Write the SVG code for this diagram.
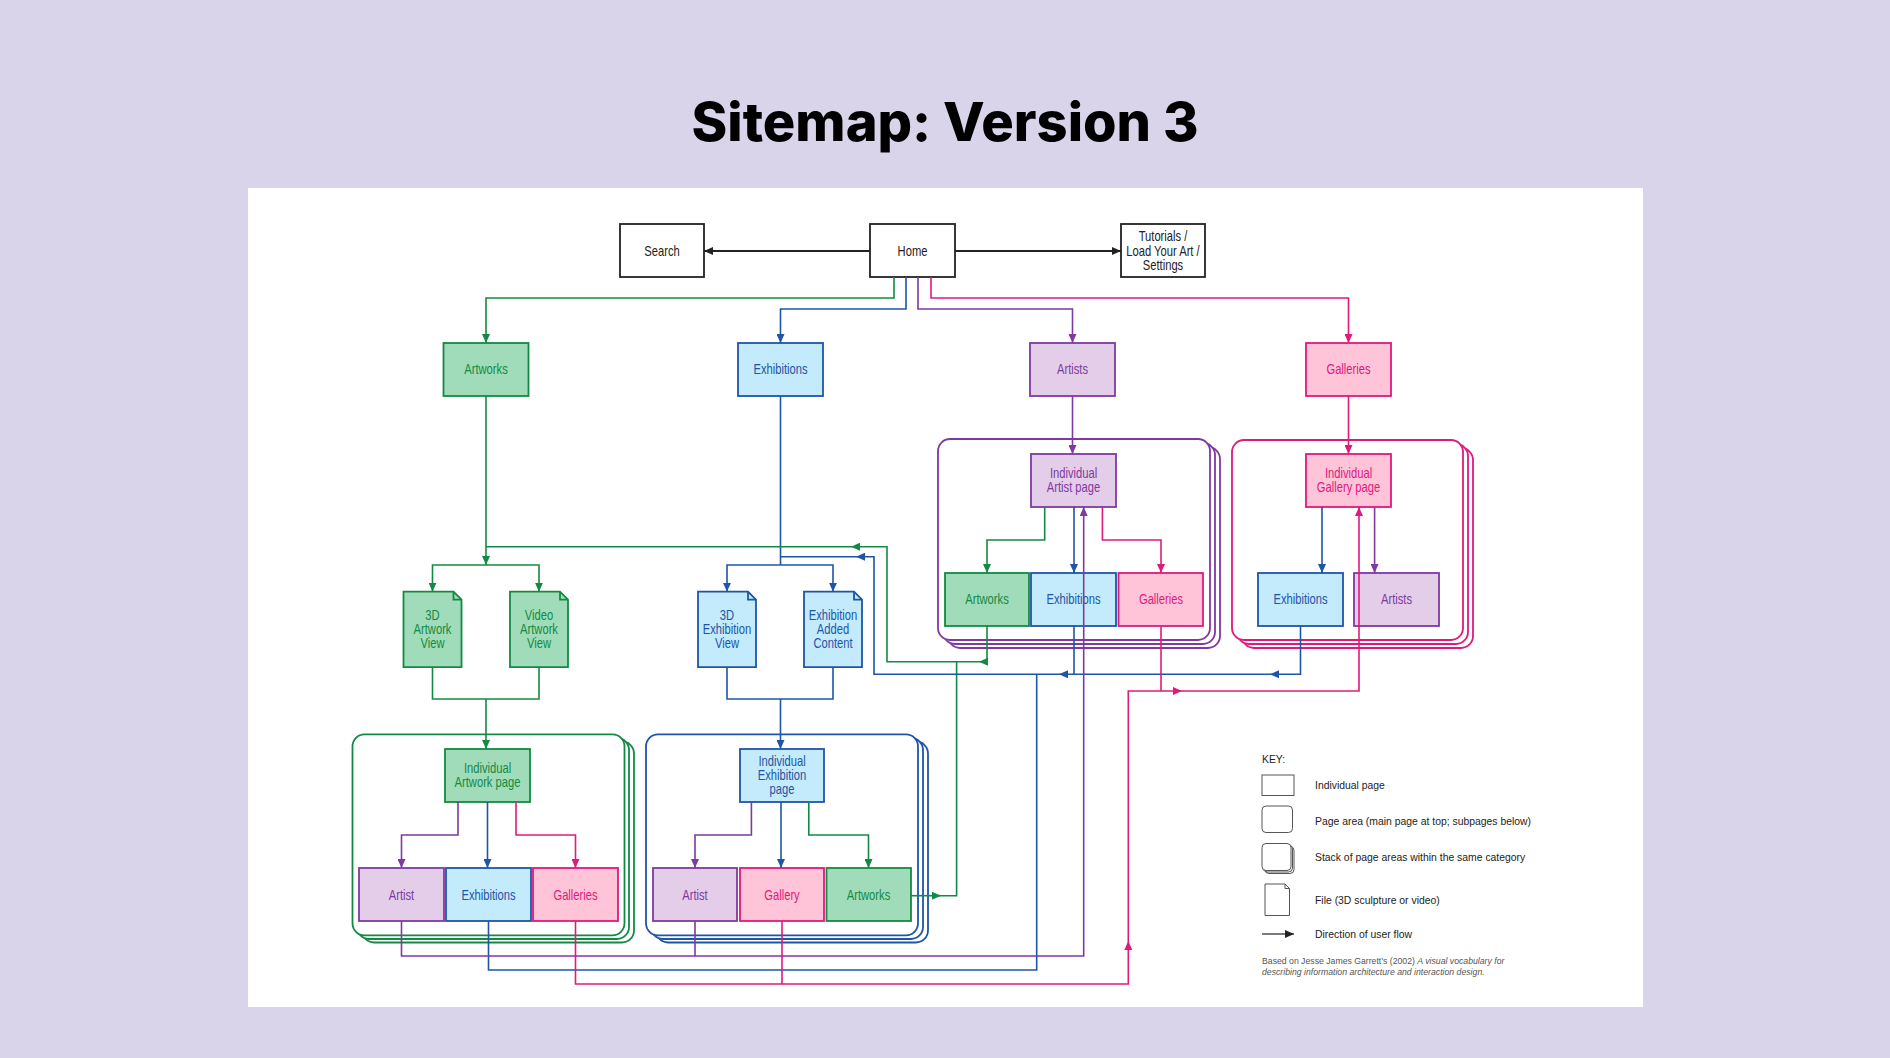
<svg xmlns="http://www.w3.org/2000/svg" width="1890" height="1058" viewBox="0 0 1890 1058">
<style>
.n{stroke-width:1.8}
.gr{fill:#A0DCB9;stroke:#138A43}
.bl{fill:#C3EBFC;stroke:#1E55A8}
.pu{fill:#E3CDE8;stroke:#7E3AA0}
.pk{fill:#FFC4D8;stroke:#E0197D}
.bk{fill:#fff;stroke:#222}
.ar{fill:#fff;stroke-width:1.8}
.t{font-family:'Liberation Sans',Arial,sans-serif;font-size:14px;text-anchor:middle}
.tg{fill:#138A43}.tb{fill:#1E55A8}.tp{fill:#7E3AA0}.tk{fill:#E0197D}.t0{fill:#222}
.c{fill:none;stroke-width:1.6}
.cg{stroke:#138A43}.cb{stroke:#1E55A8}.cp{stroke:#7E3AA0}.ck{stroke:#E0197D}.c0{stroke:#222;stroke-width:1.8}
.lg{font-family:'Liberation Sans',Arial,sans-serif;font-size:10.4px;fill:#222}
.li{fill:#fff;stroke:#555;stroke-width:1}
.cr{font-family:'Liberation Sans',Arial,sans-serif;font-size:8.7px;fill:#555}
</style>
<defs>
<marker id="mg" viewBox="0 0 9 8" refX="9" refY="4" markerWidth="9" markerHeight="8" markerUnits="userSpaceOnUse" orient="auto"><path d="M0,0L9,4L0,8z" fill="#138A43"/></marker>
<marker id="mb" viewBox="0 0 9 8" refX="9" refY="4" markerWidth="9" markerHeight="8" markerUnits="userSpaceOnUse" orient="auto"><path d="M0,0L9,4L0,8z" fill="#1E55A8"/></marker>
<marker id="mp" viewBox="0 0 9 8" refX="9" refY="4" markerWidth="9" markerHeight="8" markerUnits="userSpaceOnUse" orient="auto"><path d="M0,0L9,4L0,8z" fill="#7E3AA0"/></marker>
<marker id="mk" viewBox="0 0 9 8" refX="9" refY="4" markerWidth="9" markerHeight="8" markerUnits="userSpaceOnUse" orient="auto"><path d="M0,0L9,4L0,8z" fill="#E0197D"/></marker>
<marker id="m0" viewBox="0 0 9 8" refX="9" refY="4" markerWidth="10" markerHeight="8" markerUnits="userSpaceOnUse" orient="auto"><path d="M0,0L9,4L0,8z" fill="#222"/></marker>
</defs>
<rect width="1890" height="1058" fill="#D9D4EA"/>
<rect x="248" y="188" width="1395" height="819" fill="#fff"/>
<text x="945" y="141" text-anchor="middle" font-family="Inter,'Open Sans','Liberation Sans',sans-serif" font-weight="800" font-size="54" textLength="507" lengthAdjust="spacingAndGlyphs" fill="#000">Sitemap: Version 3</text>

<!-- page areas -->
<g id="area-artist">
<rect class="ar" style="stroke:#7E3AA0" x="948" y="447" width="272" height="201" rx="12"/>
<rect class="ar" style="stroke:#7E3AA0" x="943" y="443" width="272" height="201" rx="12"/>
<rect class="ar" style="stroke:#7E3AA0" x="938" y="439" width="272" height="201" rx="12"/>
</g>
<g id="area-gallery">
<rect class="ar" style="stroke:#E0197D" x="1242" y="448" width="231" height="200" rx="12"/>
<rect class="ar" style="stroke:#E0197D" x="1237" y="444" width="231" height="200" rx="12"/>
<rect class="ar" style="stroke:#E0197D" x="1232" y="440" width="231" height="200" rx="12"/>
</g>
<g id="area-artwork">
<rect class="ar" style="stroke:#138A43" x="362" y="741.5" width="272" height="201" rx="12"/>
<rect class="ar" style="stroke:#138A43" x="357" y="738" width="272" height="201" rx="12"/>
<rect class="ar" style="stroke:#138A43" x="352.5" y="734.3" width="272" height="201" rx="12"/>
</g>
<g id="area-exhibition">
<rect class="ar" style="stroke:#1E55A8" x="656" y="741.5" width="272" height="201" rx="12"/>
<rect class="ar" style="stroke:#1E55A8" x="651" y="738" width="272" height="201" rx="12"/>
<rect class="ar" style="stroke:#1E55A8" x="646" y="734.3" width="272" height="201" rx="12"/>
</g>

<!-- nodes -->
<g id="search"><rect class="n bk" x="620" y="224" width="84" height="53"/><text class="t t0" transform="matrix(0.8 0 0 1 662 255.5)">Search</text></g>
<g id="home"><rect class="n bk" x="870" y="224" width="85" height="53"/><text class="t t0" transform="matrix(0.8 0 0 1 912.5 255.5)">Home</text></g>
<g id="tutorials"><rect class="n bk" x="1121" y="224" width="84" height="53"/><text class="t t0" transform="matrix(0.8 0 0 1 1163 241)">Tutorials /</text><text class="t t0" transform="matrix(0.8 0 0 1 1163 255.5)">Load Your Art /</text><text class="t t0" transform="matrix(0.8 0 0 1 1163 270)">Settings</text></g>

<g id="artworks"><rect class="n gr" x="443.5" y="343" width="85" height="53"/><text class="t tg" transform="matrix(0.8 0 0 1 486 374)">Artworks</text></g>
<g id="exhibitions"><rect class="n bl" x="738" y="343" width="85" height="53"/><text class="t tb" transform="matrix(0.8 0 0 1 780.5 374)">Exhibitions</text></g>
<g id="artists"><rect class="n pu" x="1030" y="343" width="85" height="53"/><text class="t tp" transform="matrix(0.8 0 0 1 1072.5 374)">Artists</text></g>
<g id="galleries"><rect class="n pk" x="1306" y="343" width="85" height="53"/><text class="t tk" transform="matrix(0.8 0 0 1 1348.5 374)">Galleries</text></g>

<g id="file-3d-artwork"><path class="n gr" d="M403.5 591.7H453.5L461.5 599.7V667.2H403.5Z"/><path class="n gr" style="fill:none" d="M453.5 591.7V599.7H461.5"/><text class="t tg" transform="matrix(0.8 0 0 1 432.5 620)">3D</text><text class="t tg" transform="matrix(0.8 0 0 1 432.5 634)">Artwork</text><text class="t tg" transform="matrix(0.8 0 0 1 432.5 648)">View</text></g>
<g id="file-video-artwork"><path class="n gr" d="M510 591.7H560L568 599.7V667.2H510Z"/><path class="n gr" style="fill:none" d="M560 591.7V599.7H568"/><text class="t tg" transform="matrix(0.8 0 0 1 539 620)">Video</text><text class="t tg" transform="matrix(0.8 0 0 1 539 634)">Artwork</text><text class="t tg" transform="matrix(0.8 0 0 1 539 648)">View</text></g>
<g id="file-3d-exhibition"><path class="n bl" d="M698 591.7H748L756 599.7V667.2H698Z"/><path class="n bl" style="fill:none" d="M748 591.7V599.7H756"/><text class="t tb" transform="matrix(0.8 0 0 1 727 620)">3D</text><text class="t tb" transform="matrix(0.8 0 0 1 727 634)">Exhibition</text><text class="t tb" transform="matrix(0.8 0 0 1 727 648)">View</text></g>
<g id="file-exhibition-added"><path class="n bl" d="M804 591.7H854L862 599.7V667.2H804Z"/><path class="n bl" style="fill:none" d="M854 591.7V599.7H862"/><text class="t tb" transform="matrix(0.8 0 0 1 833 620)">Exhibition</text><text class="t tb" transform="matrix(0.8 0 0 1 833 634)">Added</text><text class="t tb" transform="matrix(0.8 0 0 1 833 648)">Content</text></g>

<g id="ind-artist"><rect class="n pu" x="1031" y="454" width="85" height="53"/><text class="t tp" transform="matrix(0.8 0 0 1 1073.5 478)">Individual</text><text class="t tp" transform="matrix(0.8 0 0 1 1073.5 492)">Artist page</text></g>
<g id="ap-artworks"><rect class="n gr" x="945" y="573" width="84" height="53"/><text class="t tg" transform="matrix(0.8 0 0 1 987 604)">Artworks</text></g>
<g id="ap-exhibitions"><rect class="n bl" x="1031" y="573" width="85" height="53"/><text class="t tb" transform="matrix(0.8 0 0 1 1073.5 604)">Exhibitions</text></g>
<g id="ap-galleries"><rect class="n pk" x="1118.5" y="573" width="84.5" height="53"/><text class="t tk" transform="matrix(0.8 0 0 1 1161 604)">Galleries</text></g>

<g id="ind-gallery"><rect class="n pk" x="1306" y="454" width="85" height="53"/><text class="t tk" transform="matrix(0.8 0 0 1 1348.5 478)">Individual</text><text class="t tk" transform="matrix(0.8 0 0 1 1348.5 492)">Gallery page</text></g>
<g id="gp-exhibitions"><rect class="n bl" x="1258" y="573" width="85" height="53"/><text class="t tb" transform="matrix(0.8 0 0 1 1300.5 604)">Exhibitions</text></g>
<g id="gp-artists"><rect class="n pu" x="1354" y="573" width="85" height="53"/><text class="t tp" transform="matrix(0.8 0 0 1 1396.5 604)">Artists</text></g>

<g id="ind-artwork"><rect class="n gr" x="445" y="749" width="85" height="53"/><text class="t tg" transform="matrix(0.8 0 0 1 487.5 773)">Individual</text><text class="t tg" transform="matrix(0.8 0 0 1 487.5 787)">Artwork page</text></g>
<g id="awp-artist"><rect class="n pu" x="359" y="868" width="85" height="53"/><text class="t tp" transform="matrix(0.8 0 0 1 401.5 899.5)">Artist</text></g>
<g id="awp-exhibitions"><rect class="n bl" x="446" y="868" width="85" height="53"/><text class="t tb" transform="matrix(0.8 0 0 1 488.5 899.5)">Exhibitions</text></g>
<g id="awp-galleries"><rect class="n pk" x="533" y="868" width="85" height="53"/><text class="t tk" transform="matrix(0.8 0 0 1 575.5 899.5)">Galleries</text></g>

<g id="ind-exhibition"><rect class="n bl" x="740" y="749" width="84" height="53"/><text class="t tb" transform="matrix(0.8 0 0 1 782 766)">Individual</text><text class="t tb" transform="matrix(0.8 0 0 1 782 780)">Exhibition</text><text class="t tb" transform="matrix(0.8 0 0 1 782 794)">page</text></g>
<g id="exp-artist"><rect class="n pu" x="653" y="868" width="84" height="53"/><text class="t tp" transform="matrix(0.8 0 0 1 695 899.5)">Artist</text></g>
<g id="exp-gallery"><rect class="n pk" x="740" y="868" width="84" height="53"/><text class="t tk" transform="matrix(0.8 0 0 1 782 899.5)">Gallery</text></g>
<g id="exp-artworks"><rect class="n gr" x="826.5" y="868" width="84.5" height="53"/><text class="t tg" transform="matrix(0.8 0 0 1 868.5 899.5)">Artworks</text></g>

<!-- connectors -->
<g id="connectors">
<path class="c c0" d="M870 251H704" marker-end="url(#m0)"/>
<path class="c c0" d="M955 251H1121" marker-end="url(#m0)"/>
<path class="c cg" d="M894 277V298H486V343" marker-end="url(#mg)"/>
<path class="c cb" d="M906 277V309H780.5V343" marker-end="url(#mb)"/>
<path class="c cp" d="M918 277V309H1072.5V343" marker-end="url(#mp)"/>
<path class="c ck" d="M931 277V298H1348.5V343" marker-end="url(#mk)"/>

<path class="c cg" d="M486 396V565" marker-end="url(#mg)"/>
<path class="c cg" d="M486 565H432.5V591.7" marker-end="url(#mg)"/>
<path class="c cg" d="M486 565H539V591.7" marker-end="url(#mg)"/>
<path class="c cg" d="M432.5 667.2V699H539V667.2M486 699V749" marker-end="url(#mg)"/>

<path class="c cb" d="M780.5 396V565"/>
<path class="c cb" d="M780.5 565H727V591.7" marker-end="url(#mb)"/>
<path class="c cb" d="M780.5 565H833V591.7" marker-end="url(#mb)"/>
<path class="c cb" d="M727 667.2V699H833V667.2M780.5 699V749" marker-end="url(#mb)"/>

<path class="c cp" d="M1072.5 396V454" marker-end="url(#mp)"/>
<path class="c ck" d="M1348.5 396V454" marker-end="url(#mk)"/>

<path class="c cg" d="M1044.7 507V540H987V573" marker-end="url(#mg)"/>
<path class="c cb" d="M1074 507V573" marker-end="url(#mb)"/>
<path class="c ck" d="M1102.4 507V540H1161V573" marker-end="url(#mk)"/>
<path class="c cb" d="M1322 507V573" marker-end="url(#mb)"/>
<path class="c cp" d="M1374.6 507V573" marker-end="url(#mp)"/>

<path class="c cp" d="M458 802V835H401.5V868" marker-end="url(#mp)"/>
<path class="c cb" d="M487.5 802V868" marker-end="url(#mb)"/>
<path class="c ck" d="M516 802V835H575.5V868" marker-end="url(#mk)"/>
<path class="c cp" d="M751.4 802V835H695V868" marker-end="url(#mp)"/>
<path class="c cb" d="M781 802V868" marker-end="url(#mb)"/>
<path class="c cg" d="M808.8 802V835H868.5V868" marker-end="url(#mg)"/>

<path class="c cg" d="M987 626V661.7H979" marker-end="url(#mg)"/>
<path class="c cg" d="M979 661.7H887V546.7H851" marker-end="url(#mg)"/>
<path class="c cg" d="M851 546.7H486"/>
<path class="c cg" d="M911 895.7H941" marker-end="url(#mg)"/>
<path class="c cg" d="M941 895.7H956.6V661.7"/>

<path class="c cb" d="M1300.5 626V674.3H1270" marker-end="url(#mb)"/>
<path class="c cb" d="M1270 674.3H1059" marker-end="url(#mb)"/>
<path class="c cb" d="M1059 674.3H874V556.7H856" marker-end="url(#mb)"/>
<path class="c cb" d="M856 556.7H780.5"/>
<path class="c cb" d="M1074 626V674.3"/>
<path class="c cb" d="M488.5 921V970H1036.7V674.3"/>

<path class="c cp" d="M401.5 921V956H1083.7V507" marker-end="url(#mp)"/>
<path class="c cp" d="M695 921V956"/>

<path class="c ck" d="M575.5 921V984H1128.3V941" marker-end="url(#mk)"/>
<path class="c ck" d="M1128.3 941V691H1182" marker-end="url(#mk)"/>
<path class="c ck" d="M1182 691H1359V507" marker-end="url(#mk)"/>
<path class="c ck" d="M782 921V984"/>
<path class="c ck" d="M1161 626V691"/>
</g>

<!-- key -->
<g id="key">
<text class="lg" x="1262" y="763">KEY:</text>
<rect class="li" x="1262" y="775" width="32" height="20.5"/>
<text class="lg" x="1315" y="789">Individual page</text>
<rect class="li" x="1262" y="806" width="30.5" height="26.5" rx="4"/>
<text class="lg" x="1315" y="824.5">Page area (main page at top; subpages below)</text>
<rect class="li" x="1265" y="846.5" width="29" height="27" rx="4"/>
<rect class="li" x="1263.5" y="845" width="29" height="27" rx="4"/>
<rect class="li" x="1262" y="843.5" width="29" height="27" rx="4"/>
<text class="lg" x="1315" y="860.5">Stack of page areas within the same category</text>
<path class="li" d="M1265 884H1285L1289.5 888.5V915.5H1265Z"/>
<path class="li" style="fill:none" d="M1285 884V888.5H1289.5"/>
<text class="lg" x="1315" y="903.5">File (3D sculpture or video)</text>
<path fill="none" stroke="#222" stroke-width="1.2" d="M1262 934H1294" marker-end="url(#m0)"/>
<text class="lg" x="1315" y="937.5">Direction of user flow</text>
<text class="cr" x="1262" y="964">Based on Jesse James Garrett’s (2002) <tspan font-style="italic">A visual vocabulary for</tspan></text>
<text class="cr" x="1262" y="974.5" font-style="italic">describing information architecture and interaction design.</text>
</g>
</svg>
